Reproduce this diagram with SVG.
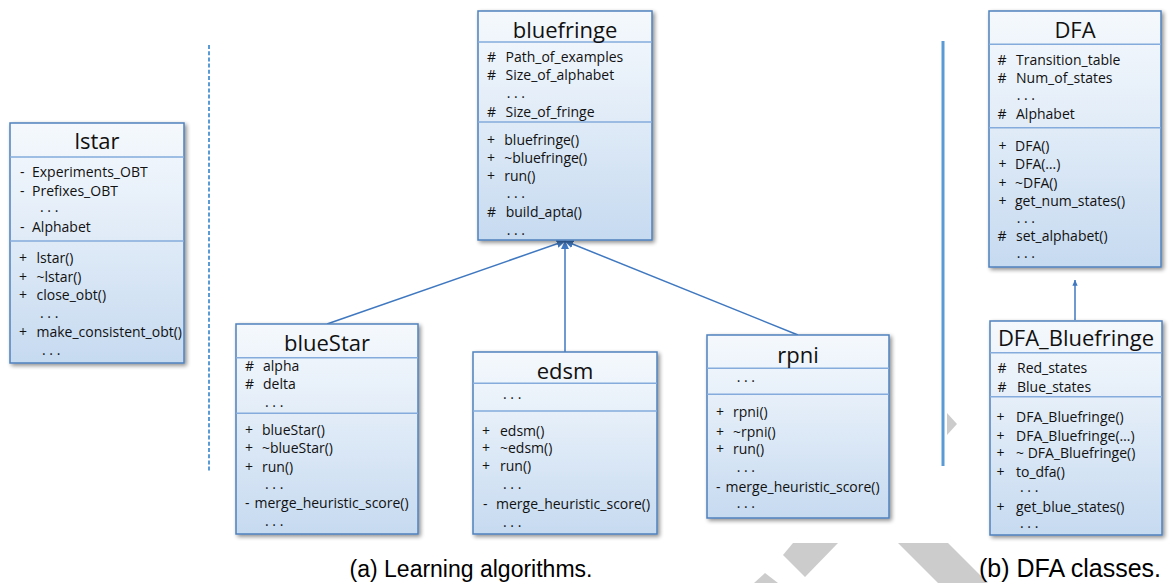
<svg xmlns="http://www.w3.org/2000/svg" width="1173" height="583" viewBox="0 0 1173 583">
<defs>
<linearGradient id="boxfill" x1="0" y1="0" x2="0" y2="1">
<stop offset="0" stop-color="#f5f9fd"/>
<stop offset="0.35" stop-color="#e6eff9"/>
<stop offset="1" stop-color="#c6daf0"/>
</linearGradient>
<filter id="shadow" x="-10%" y="-10%" width="125%" height="125%">
<feGaussianBlur in="SourceAlpha" stdDeviation="2"/>
<feOffset dx="2" dy="2" result="b"/>
<feComponentTransfer><feFuncA type="linear" slope="0.45"/></feComponentTransfer>
<feMerge><feMergeNode/><feMergeNode in="SourceGraphic"/></feMerge>
</filter>
<marker id="head" viewBox="0 0 8 8" markerUnits="userSpaceOnUse" markerWidth="9" markerHeight="9" refX="7.5" refY="4" orient="auto">
<path d="M0,0.3 L8,4 L0,7.7 z" fill="#3f78c0"/>
</marker>
<marker id="headsm" viewBox="0 0 8 8" markerUnits="userSpaceOnUse" markerWidth="6" markerHeight="6" refX="7.5" refY="4" orient="auto">
<path d="M0,0.5 L8,4 L0,7.5 z" fill="#3f78c0"/>
</marker>
</defs>
<style>
.box{fill:url(#boxfill);stroke:#4f81bd;stroke-width:1.5;filter:url(#shadow)}
.div{stroke:#84abdc;stroke-width:1.5}
.title{font-family:"Open Sans","DejaVu Sans",sans-serif;font-size:22px;fill:#111;text-anchor:middle}
.t{font-family:"Open Sans","DejaVu Sans",sans-serif;font-size:14px;fill:#111}
.d{font-family:"Open Sans","DejaVu Sans",sans-serif;font-size:14px;fill:#111}
.conn{stroke:#3f78c0;stroke-width:1.5;fill:none}
.cap{font-family:"Liberation Sans",Arial,sans-serif;fill:#000}
.sep{stroke:#5b9bd5;fill:none}
.ghost{fill:#cccccc}
</style>

<g id="decor">
<polygon class="ghost" points="947,413 957,424 947,435"/>
<polygon class="ghost" points="793,543 838,543 805,577 783,555"/>
<polygon class="ghost" points="765,573 778,583 754,583"/>
<polygon class="ghost" points="898,543 948,543 988,583 938,583"/>
<line class="sep" x1="209" y1="45" x2="209" y2="471" stroke-width="2" stroke-dasharray="4 2.2"/>
<line class="sep" x1="943" y1="41" x2="943" y2="466" stroke-width="3"/>
</g>

<g id="connectors">
<line class="conn" x1="327" y1="324" x2="565" y2="241" marker-end="url(#head)"/>
<line class="conn" x1="565" y1="352" x2="565" y2="241" marker-end="url(#head)"/>
<line class="conn" x1="798" y1="335" x2="565" y2="241" marker-end="url(#head)"/>
<line class="conn" x1="1075" y1="320" x2="1075" y2="280" marker-end="url(#headsm)"/>
</g>

<g id="lstar">
<rect class="box" x="10" y="123" width="174" height="240"/>
<line class="div" x1="10" y1="157" x2="184" y2="157"/>
<line class="div" x1="10" y1="241" x2="184" y2="241"/>
<text class="title" x="97" y="149">lstar</text>
<text class="t"><tspan x="20" y="177">-</tspan><tspan x="32" y="177">Experiments_OBT</tspan></text>
<text class="t"><tspan x="20" y="196">-</tspan><tspan x="32" y="196">Prefixes_OBT</tspan></text>
<text class="d" x="40" y="212">. . .</text>
<text class="t"><tspan x="20" y="231.5">-</tspan><tspan x="32" y="231.5">Alphabet</tspan></text>
<text class="t"><tspan x="19" y="263.3">+</tspan><tspan x="36.5" y="263.3">lstar()</tspan></text>
<text class="t"><tspan x="19" y="281.7">+</tspan><tspan x="36.5" y="281.7">~lstar()</tspan></text>
<text class="t"><tspan x="19" y="300">+</tspan><tspan x="36.5" y="300">close_obt()</tspan></text>
<text class="d" x="40" y="318">. . .</text>
<text class="t"><tspan x="19" y="336.7">+</tspan><tspan x="36.5" y="336.7">make_consistent_obt()</tspan></text>
<text class="d" x="42" y="355">. . .</text>
</g>

<g id="bluefringe">
<rect class="box" x="478" y="11" width="174" height="229"/>
<line class="div" x1="478" y1="42" x2="652" y2="42"/>
<line class="div" x1="478" y1="122" x2="652" y2="122"/>
<text class="title" x="565" y="37.5">bluefringe</text>
<text class="t"><tspan x="487" y="62.3">#</tspan><tspan x="505.5" y="62.3">Path_of_examples</tspan></text>
<text class="t"><tspan x="487" y="80">#</tspan><tspan x="505.5" y="80">Size_of_alphabet</tspan></text>
<text class="d" x="506.7" y="98">. . .</text>
<text class="t"><tspan x="487" y="116.7">#</tspan><tspan x="505.5" y="116.7">Size_of_fringe</tspan></text>
<text class="t"><tspan x="487" y="145">+</tspan><tspan x="504.3" y="145">bluefringe()</tspan></text>
<text class="t"><tspan x="487" y="163.3">+</tspan><tspan x="504.3" y="163.3">~bluefringe()</tspan></text>
<text class="t"><tspan x="487" y="181">+</tspan><tspan x="504.3" y="181">run()</tspan></text>
<text class="d" x="506.7" y="198">. . .</text>
<text class="t"><tspan x="487" y="216.7">#</tspan><tspan x="505.7" y="216.7">build_apta()</tspan></text>
<text class="d" x="506.7" y="235">. . .</text>
</g>

<g id="blueStar">
<rect class="box" x="236" y="324" width="182" height="210"/>
<line class="div" x1="236" y1="357.7" x2="418" y2="357.7"/>
<line class="div" x1="236" y1="413.3" x2="418" y2="413.3"/>
<text class="title" x="327" y="351">blueStar</text>
<text class="t"><tspan x="245" y="371">#</tspan><tspan x="263" y="371">alpha</tspan></text>
<text class="t"><tspan x="245" y="389">#</tspan><tspan x="263" y="389">delta</tspan></text>
<text class="d" x="265" y="406.5">. . .</text>
<text class="t"><tspan x="245" y="435">+</tspan><tspan x="262" y="435">blueStar()</tspan></text>
<text class="t"><tspan x="245" y="453.3">+</tspan><tspan x="262" y="453.3">~blueStar()</tspan></text>
<text class="t"><tspan x="245" y="471.7">+</tspan><tspan x="262" y="471.7">run()</tspan></text>
<text class="d" x="265" y="489">. . .</text>
<text class="t"><tspan x="245" y="508.3">-</tspan><tspan x="254.5" y="508.3">merge_heuristic_score()</tspan></text>
<text class="d" x="265" y="526">. . .</text>
</g>

<g id="edsm">
<rect class="box" x="473" y="352" width="184" height="182"/>
<line class="div" x1="473" y1="383.3" x2="657" y2="383.3"/>
<line class="div" x1="473" y1="411" x2="657" y2="411"/>
<text class="title" x="565" y="379">edsm</text>
<text class="d" x="503" y="399">. . .</text>
<text class="t"><tspan x="482" y="436">+</tspan><tspan x="500" y="436">edsm()</tspan></text>
<text class="t"><tspan x="482" y="453.3">+</tspan><tspan x="500" y="453.3">~edsm()</tspan></text>
<text class="t"><tspan x="482" y="471">+</tspan><tspan x="500" y="471">run()</tspan></text>
<text class="d" x="503" y="489">. . .</text>
<text class="t"><tspan x="483" y="509.3">-</tspan><tspan x="496" y="509.3">merge_heuristic_score()</tspan></text>
<text class="d" x="503" y="526.5">. . .</text>
</g>

<g id="rpni">
<rect class="box" x="707" y="335" width="182" height="183"/>
<line class="div" x1="707" y1="368.3" x2="889" y2="368.3"/>
<line class="div" x1="707" y1="394.3" x2="889" y2="394.3"/>
<text class="title" x="798" y="362.5">rpni</text>
<text class="d" x="736.7" y="381.5">. . .</text>
<text class="t"><tspan x="716" y="417.3">+</tspan><tspan x="733" y="417.3">rpni()</tspan></text>
<text class="t"><tspan x="716" y="436.7">+</tspan><tspan x="733" y="436.7">~rpni()</tspan></text>
<text class="t"><tspan x="716" y="454.3">+</tspan><tspan x="733" y="454.3">run()</tspan></text>
<text class="d" x="736.7" y="471.5">. . .</text>
<text class="t"><tspan x="716" y="491.7">-</tspan><tspan x="725.5" y="491.7">merge_heuristic_score()</tspan></text>
<text class="d" x="736.7" y="508">. . .</text>
</g>

<g id="DFA">
<rect class="box" x="989" y="11" width="172" height="256"/>
<line class="div" x1="989" y1="44.3" x2="1161" y2="44.3"/>
<line class="div" x1="989" y1="127.7" x2="1161" y2="127.7"/>
<text class="title" x="1075" y="38">DFA</text>
<text class="t"><tspan x="997.5" y="65">#</tspan><tspan x="1016" y="65">Transition_table</tspan></text>
<text class="t"><tspan x="997.5" y="83.3">#</tspan><tspan x="1016" y="83.3">Num_of_states</tspan></text>
<text class="d" x="1016.7" y="100">. . .</text>
<text class="t"><tspan x="997.5" y="119">#</tspan><tspan x="1016" y="119">Alphabet</tspan></text>
<text class="t"><tspan x="998.5" y="151">+</tspan><tspan x="1015" y="151">DFA()</tspan></text>
<text class="t"><tspan x="998.5" y="169.3">+</tspan><tspan x="1015" y="169.3">DFA(…)</tspan></text>
<text class="t"><tspan x="998.5" y="187.7">+</tspan><tspan x="1015" y="187.7">~DFA()</tspan></text>
<text class="t"><tspan x="998.5" y="206">+</tspan><tspan x="1015" y="206">get_num_states()</tspan></text>
<text class="d" x="1016.7" y="223">. . .</text>
<text class="t"><tspan x="997.5" y="241">#</tspan><tspan x="1016" y="241">set_alphabet()</tspan></text>
<text class="d" x="1016.7" y="258">. . .</text>
</g>

<g id="DFA_Bluefringe">
<rect class="box" x="990" y="321" width="172" height="214"/>
<line class="div" x1="990" y1="352.7" x2="1162" y2="352.7"/>
<line class="div" x1="990" y1="396.7" x2="1162" y2="396.7"/>
<text class="title" x="1076" y="346">DFA_Bluefringe</text>
<text class="t"><tspan x="997.5" y="373.3">#</tspan><tspan x="1017" y="373.3">Red_states</tspan></text>
<text class="t"><tspan x="997.5" y="391.7">#</tspan><tspan x="1017" y="391.7">Blue_states</tspan></text>
<text class="t"><tspan x="996.5" y="422.3">+</tspan><tspan x="1016" y="422.3">DFA_Bluefringe()</tspan></text>
<text class="t"><tspan x="996.5" y="440.7">+</tspan><tspan x="1016" y="440.7">DFA_Bluefringe(…)</tspan></text>
<text class="t"><tspan x="996.5" y="458.3">+</tspan><tspan x="1016" y="458.3">~ DFA_Bluefringe()</tspan></text>
<text class="t"><tspan x="996.5" y="476.7">+</tspan><tspan x="1016" y="476.7">to_dfa()</tspan></text>
<text class="d" x="1020" y="492">. . .</text>
<text class="t"><tspan x="996.5" y="511.7">+</tspan><tspan x="1016" y="511.7">get_blue_states()</tspan></text>
<text class="d" x="1020" y="528">. . .</text>
</g>

<g id="captions">
<text class="cap" x="471" y="577" font-size="23" text-anchor="middle">(a) Learning algorithms.</text>
<text class="cap" x="979" y="577" font-size="25">(b) DFA classes.</text>
</g>
</svg>
